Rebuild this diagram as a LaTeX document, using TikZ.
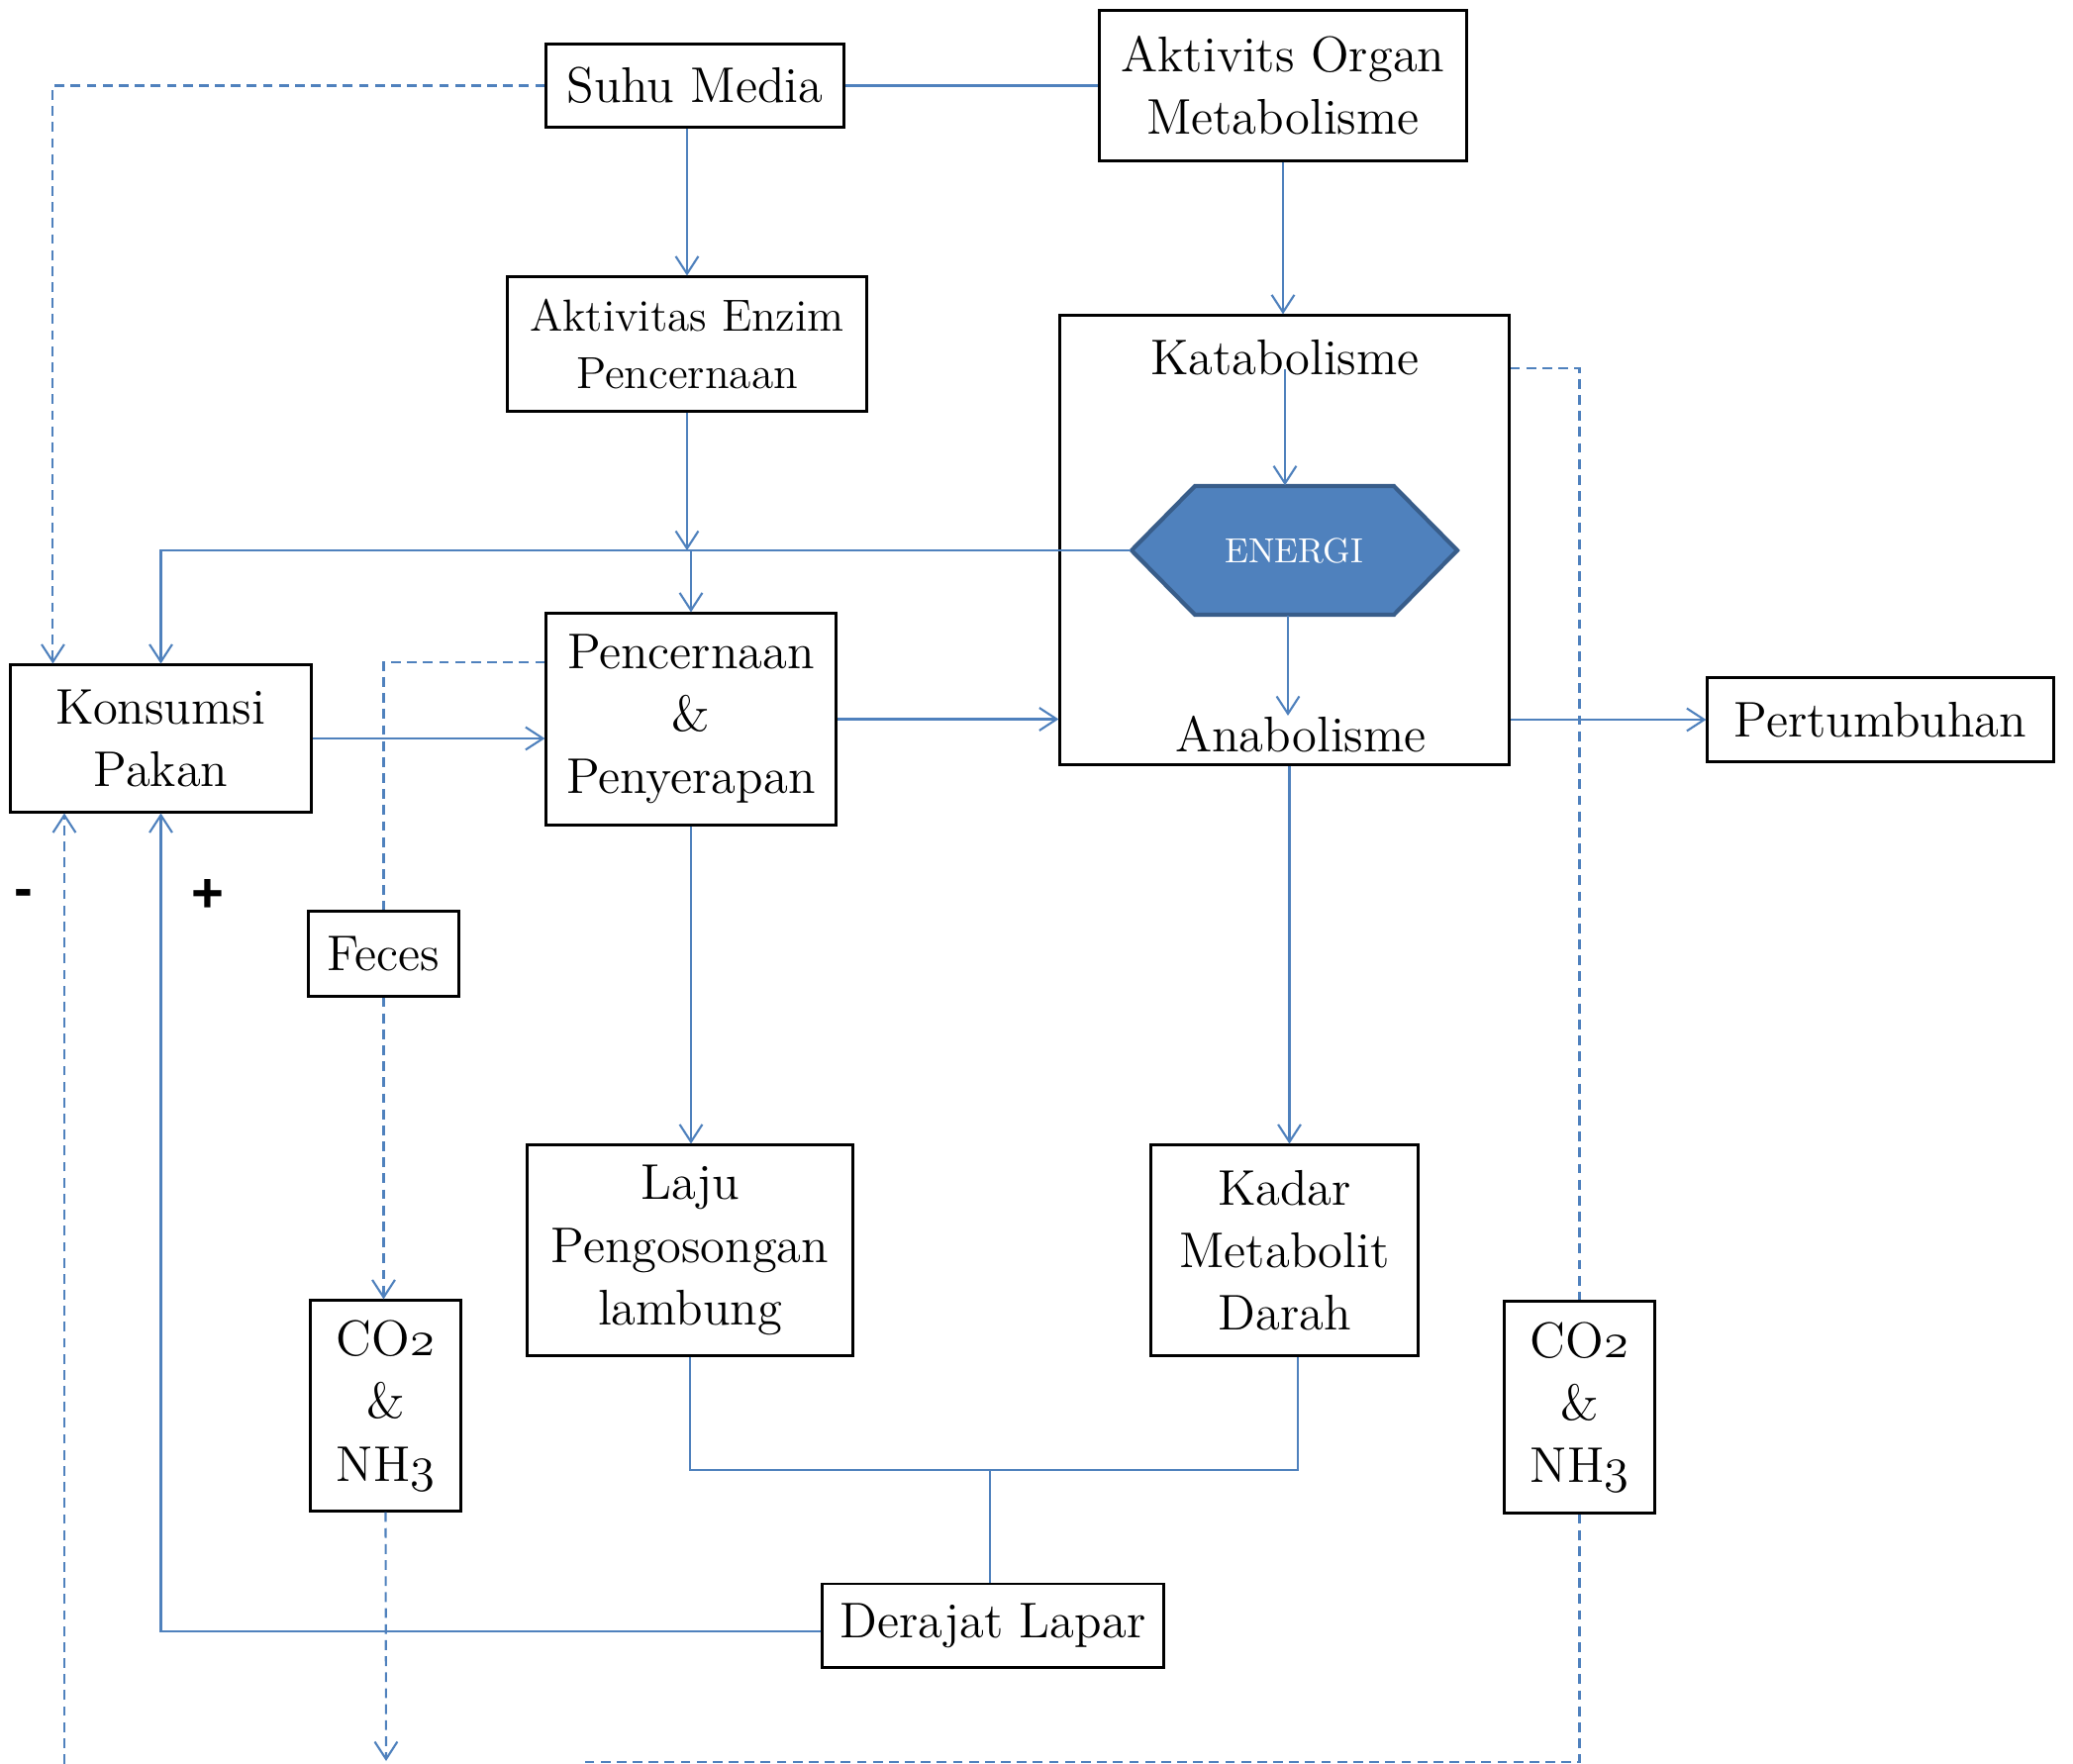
\documentclass[tikz,border=0pt]{standalone}
\usepackage{fontspec}
\usetikzlibrary{arrows.meta}
\newfontfamily\signfont{Liberation Sans}
\definecolor{lineblue}{RGB}{79,129,189}
\definecolor{hexborder}{RGB}{56,93,138}
\begin{document}
\begin{tikzpicture}[x=0.01cm,y=-0.01cm]
\tikzset{
  bx/.style={draw=black, line width=0.85pt, inner sep=0pt, align=center, font=\fontsize{14.4}{18}\selectfont},
  plain/.style={inner sep=0pt, align=center, font=\fontsize{14.4}{18}\selectfont},
  ln/.style={draw=lineblue, line width=0.6pt},
  arr/.style={ln, -{Straight Barb[length=5pt,width=6.5pt]}},
  dsh/.style={ln, dash pattern=on 2.8pt off 1.8pt},
  sign/.style={font=\signfont\bfseries\fontsize{16}{18}\selectfont},
}
\useasboundingbox (0,0) rectangle (2094,1782);

% boxes
\node[bx, minimum width=3.00cm, minimum height=0.83cm] (suhu) at (702,86.5) {Suhu Media};
\node[bx, minimum width=3.70cm, minimum height=1.51cm] (akt) at (1296,86.5) {Aktivits Organ\\Metabolisme};
\node[bx, minimum width=3.62cm, minimum height=1.35cm, font=\fontsize{12.9}{16.5}\selectfont] (enz) at (694,347.5) {Aktivitas Enzim\\Pencernaan};
\node[bx, minimum width=4.53cm, minimum height=4.53cm] (big) at (1297.5,545.5) {};
\node[bx, minimum width=3.03cm, minimum height=1.48cm] (kons) at (162.5,746) {Konsumsi\\Pakan};
\node[bx, minimum width=2.92cm, minimum height=2.13cm] (pen) at (698,726.5) {Pencernaan\\\&\\Penyerapan};
\node[bx, minimum width=3.49cm, minimum height=0.84cm] (pert) at (1899.5,727) {Pertumbuhan};
\node[bx, minimum width=1.51cm, minimum height=0.85cm] (feces) at (387.5,963.5) {Feces};
\node[bx, minimum width=1.51cm, minimum height=2.12cm] (co2l) at (389.5,1420) {CO$\mathnormal{2}$\\\&\\NH$\mathnormal{3}$};
\node[bx, minimum width=3.28cm, minimum height=2.12cm] (laju) at (697,1263) {Laju\\Pengosongan\\lambung};
\node[bx, minimum width=2.69cm, minimum height=2.12cm] (kadar) at (1297.5,1263) {Kadar\\Metabolit\\Darah};
\node[bx, minimum width=1.51cm, minimum height=2.13cm] (co2r) at (1595.5,1421.5) {CO$\mathnormal{2}$\\\&\\NH$\mathnormal{3}$};
\node[bx, minimum width=3.44cm, minimum height=0.84cm] (der) at (1003,1642) {Derajat Lapar};

% inside the metabolism box
\node[plain] (kat) at (1298,361) {Katabolisme};
\node[plain] (anab) at (1314,742) {Anabolisme};
\draw[fill=lineblue, draw=hexborder, line width=1.2pt, line join=miter]
  (1143,556) -- (1207,491) -- (1408,491) -- (1472,556) -- (1408,621) -- (1207,621) -- cycle;
\node[inner sep=0pt, minimum width=3.29cm, minimum height=1.30cm, text=white, font=\fontsize{10}{12}\selectfont] (en) at (1307,556) {ENERGI};

% signs
\node[sign] (minus) at (24,908) {-};
\node[sign] (plus) at (210,905) {+};

% solid connectors
\draw[ln] (suhu.east) -- (akt.west);
\draw[arr] (suhu.south -| enz.north) -- (enz.north);
\draw[arr] (akt.south) -- (akt.south |- big.north);
\draw[arr] (enz.south) -- (enz.south |- en.west);
\draw[arr] (en.west) -| (kons.north);
\draw[arr] (pen.north |- en.west) -- (pen.north);
\draw[arr] ([yshift=-0.12cm]kat.center) -- (kat.center |- en.north);
\draw[arr] ([xshift=-0.06cm]en.south) -- ([xshift=-0.06cm]en.south |- anab.north);
\draw[arr] (kons.east) -- (kons.east -| pen.west);
\draw[arr] (pen.east) -- (pen.east -| big.west);
\draw[arr] (big.east |- pert.west) -- (pert.west);
\draw[arr] (pen.south) -- (pen.south |- laju.north);
\draw[arr] ([xshift=0.05cm]big.south) -- ([xshift=0.05cm]kadar.north);
\coordinate (j) at (1000,1485);
\draw[ln] (laju.south) |- (j) -| ([xshift=0.135cm]kadar.south);
\draw[ln] (j) -- (j |- der.north);
\draw[arr] ([yshift=-0.06cm]der.west) -| (kons.south);

% dashed connectors
\draw[dsh, arr] (suhu.west) -| ([xshift=0.44cm]kons.north west);
\draw[dsh] ([yshift=0.575cm]pen.west) -| (feces.north);
\draw[dsh, arr] (feces.south) -- (feces.south |- co2l.north);
\coordinate (bl) at (390,1779);
\draw[dsh, arr] (co2l.south) -- (bl);
\draw[dsh] ([yshift=1.735cm]big.east) -| (co2r.north);
\coordinate (br) at (588,1780);
\draw[dsh] (co2r.south) |- (br);
\coordinate (lb) at (65,1782);
\draw[dsh, arr] (lb) -- (lb |- kons.south);
\end{tikzpicture}
\end{document}
